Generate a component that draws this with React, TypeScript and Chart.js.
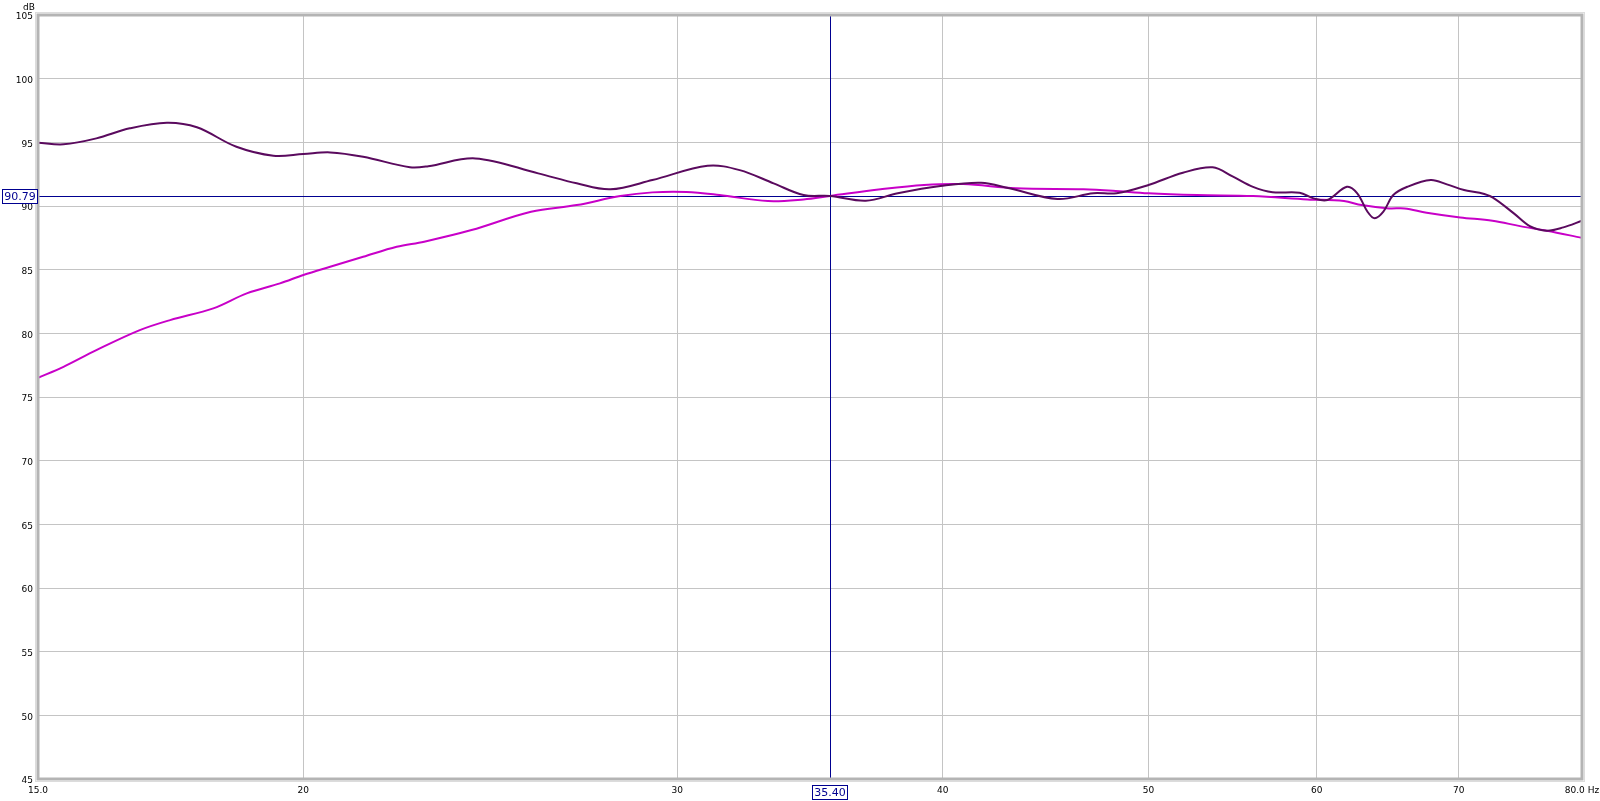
import React, { useEffect, useRef } from "react";
import { Chart, registerables } from "chart.js";

Chart.register(...registerables);

// Dark trace (frequency Hz, SPL dB)
const freqA = [15.0, 15.42, 15.98, 16.57, 17.25, 17.82, 18.6, 19.36, 20.0, 20.59, 21.34, 22.45, 22.9, 24.1, 25.8, 26.9, 27.9, 29.2, 31.0, 32.1, 33.3, 34.4, 35.4, 36.8, 38.1, 39.9, 41.7, 43.0, 45.3, 47.1, 48.3, 50.0, 51.9, 53.6, 54.8, 56.0, 57.2, 58.9, 59.8, 60.7, 62.0, 62.7, 63.4, 63.9, 64.5, 65.2, 66.2, 67.9, 69.1, 70.4, 71.6, 72.6, 74.3, 75.6, 77.0, 78.4, 80.0];
const splA = [94.97, 94.84, 95.31, 96.1, 96.54, 96.18, 94.65, 93.95, 94.08, 94.21, 93.87, 93.04, 93.12, 93.74, 92.56, 91.78, 91.31, 92.04, 93.16, 92.82, 91.78, 90.86, 90.79, 90.41, 91.0, 91.57, 91.83, 91.39, 90.55, 91.0, 91.0, 91.65, 92.61, 93.04, 92.3, 91.5, 91.08, 91.04, 90.6, 90.47, 91.51, 91.0, 89.55, 89.03, 89.55, 90.86, 91.51, 92.04, 91.7, 91.25, 91.04, 90.68, 89.42, 88.42, 88.06, 88.32, 88.84];

// Magenta trace (frequency Hz, SPL dB)
const freqB = [15.0, 15.42, 15.98, 16.75, 17.31, 18.14, 18.81, 19.5, 20.0, 20.59, 21.34, 22.13, 22.8, 24.0, 25.6, 26.9, 28.2, 29.2, 30.3, 31.4, 33.1, 34.4, 35.4, 37.4, 39.2, 40.9, 43.3, 46.6, 48.1, 50.0, 52.7, 56.0, 59.4, 61.8, 63.0, 64.9, 66.0, 67.6, 70.1, 72.6, 74.8, 77.0, 80.0];
const splB = [76.51, 77.37, 78.68, 80.25, 81.04, 81.96, 83.14, 83.92, 84.58, 85.23, 86.01, 86.8, 87.2, 88.11, 89.55, 90.07, 90.78, 91.07, 91.1, 90.86, 90.39, 90.52, 90.79, 91.31, 91.65, 91.72, 91.39, 91.31, 91.2, 91.0, 90.86, 90.78, 90.52, 90.39, 90.07, 89.81, 89.81, 89.47, 89.1, 88.84, 88.42, 88.06, 87.5];

const xTickValues = [15, 20, 30, 40, 50, 60, 70, 80];
const xTickLabels = ["15.0", "20", "30", "40", "50", "60", "70", "80.0 Hz"];
const yMin = 45;
const yMax = 105;
const yStep = 5;
const cursorFreq = 35.4;
const cursorSpl = 90.79;
const cursorFreqLabel = "35.40";
const cursorSplLabel = "90.79";
const yUnitLabel = "dB";

const TICK_FONT = { family: "DejaVu Sans", size: 9 };
const NAVY = "#000090";

const rewPlugin = {
  id: "rewOverlay",
  beforeDatasetsDraw(chart: any) {
    const { ctx, chartArea, scales } = chart;
    const { left, right, top, bottom } = chartArea;
    const cx = Math.round(scales.x.getPixelForValue(cursorFreq)) + 0.5;
    const cy = Math.round(scales.y.getPixelForValue(cursorSpl)) + 0.5;
    ctx.save();
    ctx.strokeStyle = NAVY;
    ctx.lineWidth = 1;
    ctx.beginPath();
    ctx.moveTo(left, cy);
    ctx.lineTo(right, cy);
    ctx.moveTo(cx, top);
    ctx.lineTo(cx, bottom);
    ctx.stroke();
    ctx.restore();
  },
  afterDraw(chart: any) {
    const { ctx, chartArea, scales } = chart;
    const { left, right, top, bottom } = chartArea;
    ctx.save();
    // frame
    ctx.strokeStyle = "#dcdcdc";
    ctx.lineWidth = 1;
    ctx.strokeRect(left - 2.5, top - 2.5, right - left + 5, bottom - top + 5);
    ctx.strokeStyle = "#b4b4b4";
    ctx.lineWidth = 3;
    ctx.strokeRect(left, top, right - left, bottom - top);

    // cursor value boxes
    const cx = Math.round(scales.x.getPixelForValue(cursorFreq)) + 0.5;
    const cy = Math.round(scales.y.getPixelForValue(cursorSpl)) + 0.5;
    ctx.font = "11px 'DejaVu Sans'";
    ctx.textAlign = "center";
    ctx.textBaseline = "middle";

    const bw = 35, bh = 14;
    let bx = 2.5, by = cy - 7;
    ctx.fillStyle = "#ffffff";
    ctx.fillRect(bx, by, bw, bh);
    ctx.strokeStyle = NAVY;
    ctx.lineWidth = 1;
    ctx.strokeRect(bx, by, bw, bh);
    ctx.fillStyle = NAVY;
    ctx.fillText(cursorSplLabel, bx + bw / 2, by + bh / 2 + 0.5);

    bx = cx - 18;
    by = 785.5;
    ctx.fillStyle = "#ffffff";
    ctx.fillRect(bx, by, bw, bh);
    ctx.strokeRect(bx, by, bw, bh);
    ctx.fillStyle = NAVY;
    ctx.fillText(cursorFreqLabel, bx + bw / 2, by + bh / 2 + 0.5);

    // unit label
    ctx.font = "9px 'DejaVu Sans'";
    ctx.fillStyle = "#000000";
    ctx.textAlign = "right";
    ctx.textBaseline = "alphabetic";
    ctx.fillText(yUnitLabel, 35, 10);
    ctx.restore();
  },
};

export default function App() {
  const canvasRef = useRef<HTMLCanvasElement | null>(null);

  useEffect(() => {
    document.body.style.margin = "0";
    const canvas = canvasRef.current;
    if (!canvas) return;
    const chart = new Chart(canvas, {
      type: "line",
      data: {
        datasets: [
          {
            label: "A",
            data: freqA.map((f, i) => ({ x: f, y: splA[i] })),
            borderColor: "#5a0a5e",
            borderWidth: 2,
            pointRadius: 0,
            tension: 0.35,
            fill: false,
          },
          {
            label: "B",
            data: freqB.map((f, i) => ({ x: f, y: splB[i] })),
            borderColor: "#c800c8",
            borderWidth: 2,
            pointRadius: 0,
            tension: 0.35,
            fill: false,
          },
        ],
      },
      options: {
        animation: false,
        responsive: false,
        devicePixelRatio: 1,
        layout: { padding: { top: 15, right: 18, left: 0, bottom: 0 } },
        plugins: {
          legend: { display: false },
          tooltip: { enabled: false },
          title: { display: false },
        },
        scales: {
          x: {
            type: "logarithmic",
            min: 15,
            max: 80,
            afterBuildTicks: (s: any) => {
              s.ticks = xTickValues.map((v) => ({ value: v }));
            },
            afterFit: (s: any) => {
              s.height = 22;
              s.paddingLeft = 0;
              s.paddingRight = 0;
            },
            ticks: {
              autoSkip: false,
              maxRotation: 0,
              minRotation: 0,
              padding: 6,
              color: "#000000",
              font: TICK_FONT,
              callback: (_v: any, i: number) => xTickLabels[i],
            },
            grid: { color: "#c4c4c4", lineWidth: 1, drawTicks: false },
            border: { display: false },
          },
          y: {
            type: "linear",
            min: yMin,
            max: yMax,
            afterFit: (s: any) => {
              s.width = 38;
              s.paddingTop = 0;
              s.paddingBottom = 0;
            },
            ticks: {
              stepSize: yStep,
              padding: 5,
              labelOffset: 2,
              color: "#000000",
              font: TICK_FONT,
            },
            grid: { color: "#c4c4c4", lineWidth: 1, drawTicks: false },
            border: { display: false },
          },
        },
      } as any,
      plugins: [rewPlugin],
    });
    return () => chart.destroy();
  }, []);

  return (
    <div style={{ width: 1600, height: 801, background: "#ffffff" }}>
      <canvas ref={canvasRef} width={1600} height={801} style={{ display: "block" }} />
    </div>
  );
}
